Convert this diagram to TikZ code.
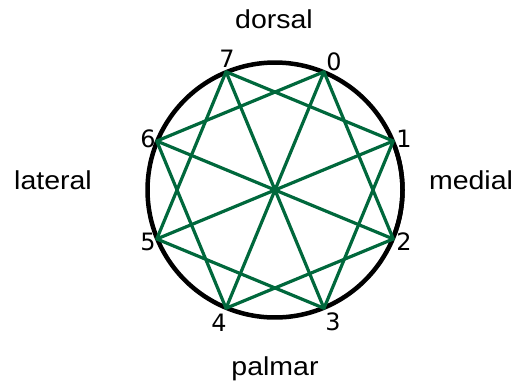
\documentclass[tikz,border=0pt]{standalone}
\usepackage{fontspec}
\usetikzlibrary{calc}
\setmainfont{Liberation Sans}
\newfontfamily\wordfont[FakeStretch=1.1]{Liberation Sans}
\newfontfamily\digitfont{DejaVu Sans}
\definecolor{chordgreen}{RGB}{0,104,60}
\begin{document}
\begin{tikzpicture}[x=1bp,y=-1bp,
  rim/.style={draw=black,line width=4.5bp,line cap=round,line join=round},
  chord/.style={draw=chordgreen,line width=3.2bp,line cap=round,line join=round},
  word/.style={anchor=base,inner sep=0pt,font=\wordfont\fontsize{26}{30}\selectfont},
  num/.style={anchor=base,inner sep=0pt,font=\digitfont\fontsize{24}{28}\selectfont}]
\useasboundingbox (0,0) rectangle (517,385);
\coordinate (c) at (275,190);
\draw[rim] plot[smooth cycle,samples=73,domain=0:355] ({275+127.5*cos(\x)},{190+127.5*sin(\x)});
\draw[rim] plot[smooth,samples=9,domain=-20:20] ({275+127.5*cos(\x)},{190+127.5*sin(\x)});
\foreach \i/\a in {0/67.5,1/22.5,2/-22.5,3/-67.5,4/-112.5,5/-157.5,6/157.5,7/112.5}{
  \coordinate (p\i) at ($(c)+({128*cos(\a)},{-128*sin(\a)})$);
}
\draw[chord] (p0) -- (p2) -- (p4) -- (p6) -- cycle;
\draw[chord] (p1) -- (p3) -- (p5) -- (p7) -- cycle;
\draw[chord] (p0) -- (p4);
\draw[chord] (p1) -- (p5);
\draw[chord] (p2) -- (p6);
\draw[chord] (p3) -- (p7);
\node[num] (n7) at (227,67) {7};
\node[num] (n0) at (334,70) {0};
\node[num] (n1) at (404,147) {1};
\node[num] (n6) at (148,147) {6};
\node[num] (n5) at (148,250) {5};
\node[num] (n2) at (404,250) {2};
\node[num] (n4) at (219,331) {4};
\node[num] (n3) at (333,330) {3};
\node[word] (dorsal) at (274,28) {dorsal};
\node[word] (palmar) at (275,375) {palmar};
\node[word] (lateral) at (53,189) {lateral};
\node[word] (medial) at (471,189) {medial};
\end{tikzpicture}
\end{document}
